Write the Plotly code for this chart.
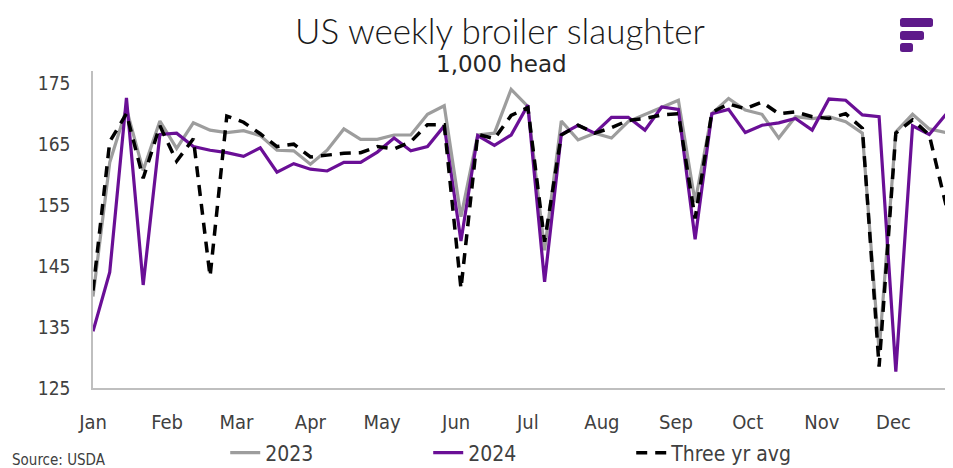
import plotly.graph_objects as go
import pandas as pd

weeks = pd.date_range("2024-01-01", periods=52, freq="7D")

y2023 = [140.0, 162.0, 170.8, 160.7, 168.8, 164.3, 168.5, 167.3, 166.9, 167.2,
         166.4, 164.0, 163.9, 161.7, 164.0, 167.5, 165.8, 165.8, 166.5, 166.5,
         169.9, 171.3, 153.1, 166.5, 166.8, 174.0, 171.2, 147.6, 168.8, 165.7,
         166.8, 166.0, 168.7, 169.9, 171.1, 172.2, 155.5, 170.0, 172.5, 170.6,
         169.9, 166.0, 169.5, 169.2, 169.5, 168.7, 166.8, 131.0, 167.0, 169.9,
         167.5, 166.9]

y2024 = [134.3, 144.0, 172.6, 141.9, 166.6, 166.8, 164.6, 164.0, 163.6, 163.0,
         164.4, 160.4, 161.8, 160.9, 160.6, 162.0, 162.0, 163.7, 166.0, 163.9,
         164.6, 168.0, 149.1, 166.4, 164.8, 166.5, 171.4, 142.4, 166.6, 168.1,
         166.8, 169.4, 169.4, 167.3, 171.1, 170.7, 149.4, 170.0, 170.7, 166.9,
         168.1, 168.5, 169.2, 167.3, 172.4, 172.2, 169.8, 169.5, 127.7, 168.0,
         166.6, 169.9]

avg3 = [141.0, 165.4, 170.0, 159.4, 168.0, 162.2, 165.9, 143.3, 169.6, 168.6,
        166.7, 164.6, 165.0, 162.9, 163.2, 163.5, 163.6, 164.6, 164.2, 165.4,
        168.2, 168.2, 141.3, 166.6, 165.9, 169.7, 171.0, 149.0, 166.5, 168.1,
        166.8, 167.7, 168.9, 169.2, 169.8, 170.0, 152.8, 170.2, 171.6, 170.8,
        171.9, 170.0, 170.3, 169.5, 169.2, 170.0, 167.6, 128.5, 166.8, 169.0,
        166.5, 155.0]

series_names = ["2023", "2024", "Three yr avg"]
yticks = [125, 135, 145, 155, 165, 175]

TXT = "#404040"
FONT = "DejaVu Sans Condensed, Liberation Sans Narrow, sans-serif"
TFONT = "Lato, DejaVu Sans, sans-serif"

# page has an 8px body margin: figure is sized/margined so the plot area
# lands at page x 93..946, y 71..388
fig = go.Figure()
fig.add_trace(go.Scatter(x=weeks, y=y2023, name=series_names[0], mode="lines",
                         line=dict(color="#9d9d9d", width=3.2)))
fig.add_trace(go.Scatter(x=weeks, y=y2024, name=series_names[1], mode="lines",
                         line=dict(color="#6a0f96", width=3.2)))
fig.add_trace(go.Scatter(x=weeks, y=avg3, name=series_names[2], mode="lines",
                         line=dict(color="#000000", width=3.5, dash="11px,8px")))

fig.update_layout(
    width=945, height=460,
    margin=dict(l=85, r=7, t=63, b=80, autoexpand=False),
    paper_bgcolor="white", plot_bgcolor="white",
    font=dict(family=FONT, size=19, color=TXT),
    showlegend=True,
    legend=dict(orientation="h", x=0.155, xanchor="left", y=-0.205, yanchor="middle",
                entrywidth=158, font=dict(size=21, color=TXT, family=FONT),
                bgcolor="rgba(0,0,0,0)"),
    xaxis=dict(type="date", range=[weeks[0], weeks[-1]], dtick="M1", tick0="2024-01-01",
               tickformat="%b", showgrid=False, zeroline=False, automargin=False,
               showline=True, linecolor="#bfbfbf", linewidth=1.5,
               ticks="", ticklabelstandoff=15, tickfont=dict(size=20, color=TXT)),
    yaxis=dict(range=[125, 177], tickvals=yticks, showgrid=False, zeroline=False,
               automargin=False,
               showline=True, linecolor="#bfbfbf", linewidth=1.5,
               ticks="", ticklabelstandoff=17, tickfont=dict(size=19, color=TXT)),
    annotations=[
        dict(text="US weekly broiler slaughter", xref="paper", yref="paper",
             x=(500 - 93) / 853, y=1.0, yshift=71 - 30, xanchor="center", yanchor="middle",
             showarrow=False, font=dict(size=35, color="#1a1a1a", family=TFONT, weight=300)),
        dict(text="1,000 head", xref="paper", yref="paper",
             x=(501 - 93) / 853, y=1.0, yshift=71 - 64, xanchor="center", yanchor="middle",
             showarrow=False, font=dict(size=23, color="#262626", family="DejaVu Sans, sans-serif")),
        dict(text="Source: USDA", xref="paper", yref="paper",
             x=(10 - 93) / 853, y=0, yshift=-(460 - 388), xanchor="left", yanchor="middle",
             showarrow=False, font=dict(size=15, color=TXT, family=FONT)),
    ],
)

# Logo bars (decoration, rounded corners)
logo = "#5e1a8a"
W, H = 853.0, 317.0


def rounded(x0, x1, y0, y1, r=2.5):
    px = lambda v: (v - 93) / W
    py = lambda v: (388 - v) / H
    pts = (f"M {px(x0 + r)},{py(y0)} L {px(x1 - r)},{py(y0)} "
           f"Q {px(x1)},{py(y0)} {px(x1)},{py(y0 + r)} L {px(x1)},{py(y1 - r)} "
           f"Q {px(x1)},{py(y1)} {px(x1 - r)},{py(y1)} L {px(x0 + r)},{py(y1)} "
           f"Q {px(x0)},{py(y1)} {px(x0)},{py(y1 - r)} L {px(x0)},{py(y0 + r)} "
           f"Q {px(x0)},{py(y0)} {px(x0 + r)},{py(y0)} Z")
    return pts


for (x0, x1, y0, y1) in [(900, 933, 18, 27), (900, 924, 31, 40), (900, 913, 43, 52)]:
    fig.add_shape(type="path", xref="paper", yref="paper", path=rounded(x0, x1, y0, y1),
                  fillcolor=logo, line=dict(width=0), layer="above")

fig.write_html("out.html")
